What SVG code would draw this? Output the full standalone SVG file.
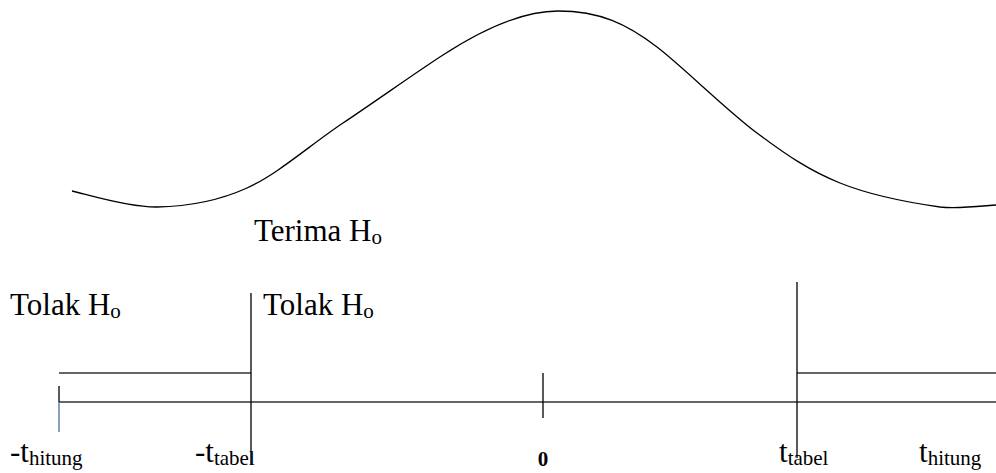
<svg xmlns="http://www.w3.org/2000/svg" width="996" height="473" viewBox="0 0 996 473">
<style>
.t{font-family:"Liberation Serif","Times New Roman",serif;font-size:31px;fill:#000}
.s{font-size:21px}
.ln{stroke:#000;stroke-width:1.3;fill:none}
.hl{stroke:#333;stroke-width:1.3;fill:none}
</style>
<rect width="996" height="473" fill="#fff"/>
<g id="curve">
<path class="ln" d="M72,191 C86,194 128,207.5 157,207 C186,206.5 216,202 247,188 C278,174 310,145 343,123 C376,101 418,71 443,55 C480,31 520,11 558,11 C600,11 627,24 657,47 C682,66 726.5,110.3 757,133 C787.5,155.7 809.5,170.7 840,183 C870.5,195.3 914,203.3 940,207 C960,209 986,205.5 996,205"/>
</g>
<g id="connectors">
<line class="hl" x1="59" y1="373" x2="251" y2="373"/>
<line class="hl" x1="797" y1="373" x2="996" y2="373"/>
<line class="hl" x1="59" y1="402" x2="996" y2="402"/>
<line class="ln" x1="59" y1="386" x2="59" y2="402"/>
<line stroke="#4a6f9a" stroke-width="1.3" x1="59" y1="402" x2="59" y2="432"/>
<line class="ln" x1="251" y1="293" x2="251" y2="465"/>
<line class="ln" x1="797" y1="282" x2="797" y2="458"/>
<line class="ln" stroke-width="2" x1="543" y1="373" x2="543" y2="418"/>
</g>
<g id="terima"><text class="t" x="254" y="241">Terima H<tspan class="s" dy="3">o</tspan></text></g>
<g id="tolak-left"><text class="t" x="10" y="315">Tolak H<tspan class="s" dy="3">o</tspan></text></g>
<g id="tolak-mid"><text class="t" x="263" y="315">Tolak H<tspan class="s" dy="3">o</tspan></text></g>
<g id="label-thitung-neg"><text class="t" x="10" y="462">-t<tspan class="s" dy="3">hitung</tspan></text></g>
<g id="label-ttabel-neg"><text class="t" x="195" y="462">-t<tspan class="s" dy="3">tabel</tspan></text></g>
<g id="label-zero"><text class="t" x="543" y="466" text-anchor="middle" style="font-size:21px;font-weight:bold">0</text></g>
<g id="label-ttabel"><text class="t" x="779" y="462">t<tspan class="s" dy="3">tabel</tspan></text></g>
<g id="label-thitung"><text class="t" x="919" y="462">t<tspan class="s" dy="3">hitung</tspan></text></g>
</svg>
